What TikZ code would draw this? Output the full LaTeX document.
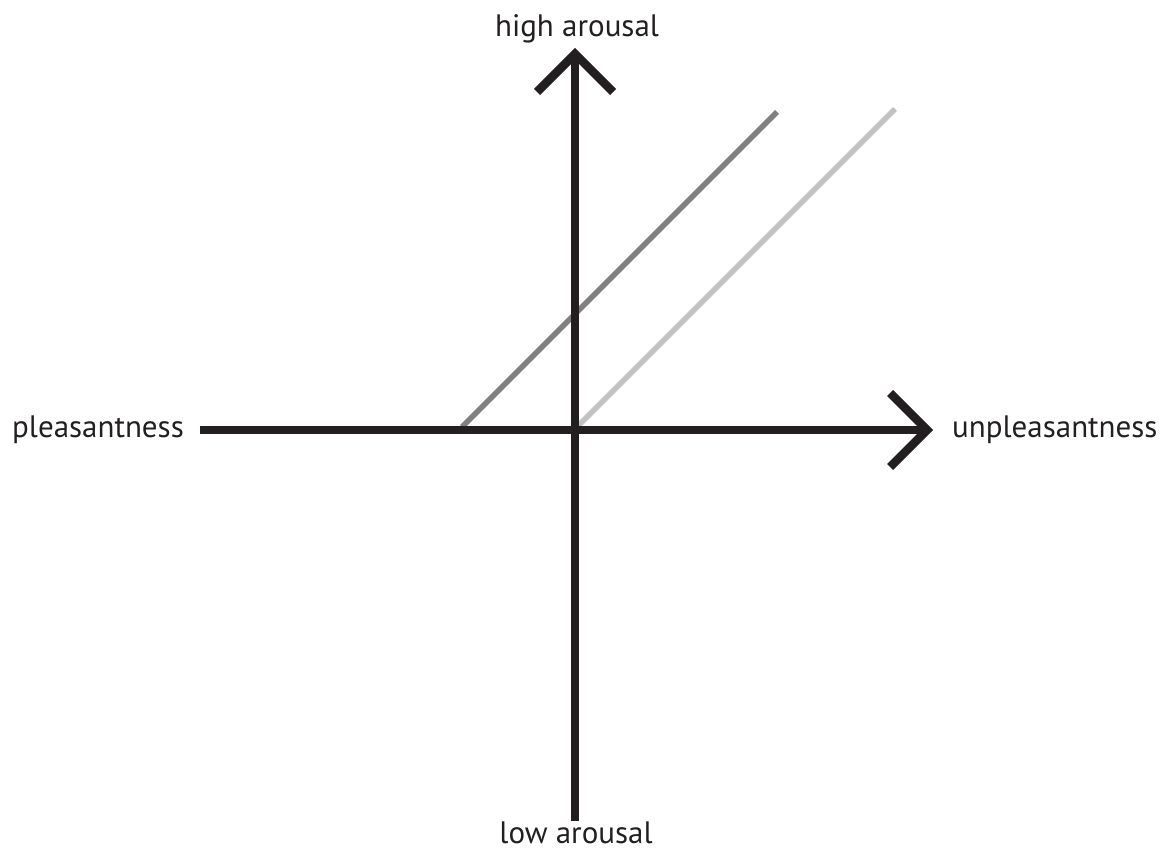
\documentclass[tikz,border=0pt]{standalone}
\usepackage{fontspec}
\setmainfont{PT Sans}
\definecolor{axiscol}{HTML}{231F20}
\definecolor{darkln}{HTML}{808081}
\definecolor{lightln}{HTML}{C2C2C3}
\begin{document}
\begin{tikzpicture}[x=1pt,y=-1pt,
  axis/.style={draw=axiscol,line width=8.5pt,line cap=butt},
  chevron/.style={draw=axiscol,line width=8.5pt,line cap=butt,line join=miter},
  diag/.style={line width=5.5pt,line cap=butt},
  lab/.style={font=\fontsize{31}{33}\selectfont,text=axiscol,inner sep=0pt,anchor=base}]
\useasboundingbox (0,0) rectangle (1161,850);
% coordinates
\coordinate (vtop) at (575,54);
\coordinate (vbot) at (575,821);
\coordinate (hl) at (200,430);
\coordinate (hr) at (927,430);
\coordinate (va) at (537,92);
\coordinate (vb) at (613,92);
\coordinate (ha) at (890,393);
\coordinate (hb) at (890,467);
\coordinate (d1a) at (462,427);
\coordinate (d1b) at (777,112);
\coordinate (d2a) at (578,426);
\coordinate (d2b) at (895,109);
% diagonals
\draw[diag,darkln] (d1a) -- (d1b);
\draw[diag,lightln] (d2a) -- (d2b);
% axes
\draw[axis] (vbot) -- (vtop);
\draw[axis] (hl) -- (hr);
\draw[chevron] (va) -- (vtop) -- (vb);
\draw[chevron] (ha) -- (hr) -- (hb);
% labels
\node[lab] (high) at (577,37) {high arousal};
\node[lab] (low) at (576,843) {low arousal};
\node[lab,anchor=base west] (pleas) at (12,437) {pleasantness};
\node[lab,anchor=base west] (unpleas) at (952,437) {unpleasantness};
\end{tikzpicture}
\end{document}
